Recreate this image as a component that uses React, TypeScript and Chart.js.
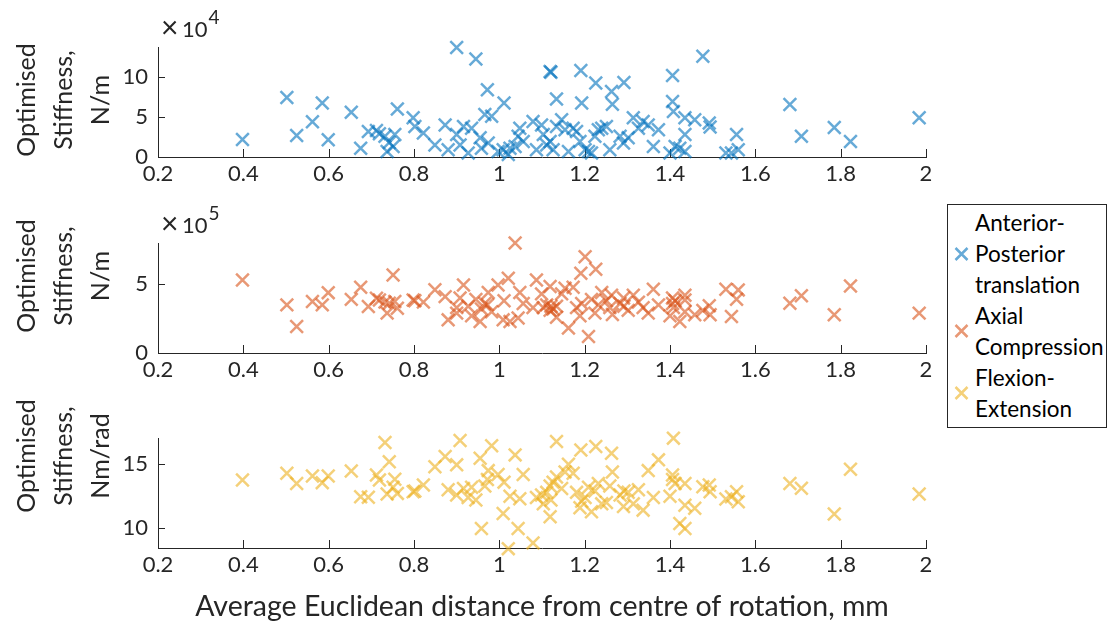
import React, { useEffect, useRef } from 'react';
import { Chart, registerables } from 'chart.js';

Chart.register(...registerables);

const FONT = 'Lato, "Open Sans", sans-serif';
const INK = '#262626';
const WIDTH = 1112;
const PLOT_LEFT = 158;
const PLOT_RIGHT = 926;

// Average Euclidean distance from centre of rotation (mm), one entry per sample
const distance = [
  0.398, 0.502, 0.525, 0.562, 0.585, 0.599, 0.653, 0.675, 0.693, 0.712,
  0.719, 0.732, 0.737, 0.742, 0.751, 0.755, 0.761, 0.798, 0.802, 0.822,
  0.849, 0.873, 0.880, 0.900, 0.900, 0.908, 0.916, 0.927, 0.935, 0.945,
  0.955, 0.958, 0.966, 0.972, 0.974, 0.982, 0.997, 1.009, 1.011, 1.021,
  1.025, 1.037, 1.044, 1.048, 1.056, 1.079, 1.087, 1.099, 1.103, 1.111,
  1.119, 1.121, 1.119, 1.126, 1.134, 1.134, 1.146, 1.154, 1.162, 1.173,
  1.181, 1.189, 1.191, 1.193, 1.201, 1.209, 1.216, 1.224, 1.226, 1.232,
  1.240, 1.251, 1.259, 1.263, 1.265, 1.283, 1.291, 1.292, 1.302, 1.314,
  1.326, 1.337, 1.349, 1.361, 1.373, 1.400, 1.406, 1.406, 1.408, 1.412,
  1.423, 1.435, 1.435, 1.435, 1.458, 1.477, 1.492, 1.494, 1.531, 1.544,
  1.556, 1.560, 1.681, 1.708, 1.785, 1.823, 1.984,
];

// Anterior-posterior translation stiffness, in units of 10^4 N/m
const apStiffnessE4 = [
  2.2, 7.45, 2.7, 4.4, 6.75, 2.16, 5.6, 1.1, 3.2, 3.3,
  2.9, 2.6, 0.7, 1.8, 1.3, 2.8, 6.0, 4.9, 3.8, 3.0,
  1.5, 4.0, 0.9, 13.7, 2.8, 1.5, 3.8, 0.5, 3.6, 12.25,
  2.4, 1.1, 5.3, 8.4, 1.75, 5.1, 0.7, 0.9, 6.75, 0.3,
  1.1, 1.3, 2.6, 3.6, 1.95, 4.45, 0.9, 4.0, 2.8, 1.5,
  10.7, 10.6, 1.95, 0.9, 7.25, 3.8, 4.65, 3.4, 0.7, 3.6,
  3.2, 1.95, 10.8, 6.75, 0.9, 0.7, 0.5, 2.6, 9.25, 3.4,
  3.6, 3.8, 0.9, 8.2, 6.6, 2.6, 1.75, 9.3, 2.4, 4.9,
  3.6, 4.45, 4.0, 1.3, 3.4, 0.5, 10.2, 6.95, 5.7, 1.3,
  1.1, 0.7, 4.9, 2.8, 4.65, 12.6, 4.25, 3.75, 0.5, 0.5,
  2.8, 0.9, 6.55, 2.6, 3.7, 1.95, 4.9,
];

// Axial compression stiffness, in units of 10^5 N/m
const axialStiffnessE5 = [
  5.31, 3.5, 1.93, 3.74, 3.5, 4.39, 3.9, 4.78, 3.38, 3.98,
  3.86, 3.7, 2.9, 3.62, 5.67, 3.74, 3.26, 3.86, 3.8, 3.7,
  4.6, 4.1, 2.41, 3.3, 2.9, 4.0, 4.95, 3.4, 2.7, 3.9,
  2.29, 3.2, 3.6, 3.5, 4.4, 3.0, 4.95, 2.41, 3.8, 5.43,
  2.29, 8.0, 2.54, 4.4, 3.6, 3.3, 5.31, 4.3, 3.3, 3.5,
  3.1, 3.4, 4.83, 3.2, 3.4, 2.6, 4.3, 4.71, 1.81, 4.78,
  3.3, 2.7, 5.8, 3.6, 7.0, 1.2, 3.9, 2.9, 6.09, 3.5,
  4.4, 3.8, 3.3, 4.2, 2.8, 3.6, 4.0, 3.4, 3.1, 4.2,
  3.7, 3.3, 2.9, 4.64, 3.5, 2.7, 3.6, 4.0, 3.3, 3.8,
  2.29, 3.86, 4.2, 3.0, 2.78, 3.1, 3.43, 2.78, 4.64, 2.65,
  3.91, 4.59, 3.62, 4.17, 2.78, 4.88, 2.9,
];

// Flexion-extension stiffness, Nm/rad
const flexionStiffness = [
  13.77, 14.29, 13.5, 14.08, 13.56, 14.08, 14.47, 12.46, 12.41, 14.16,
  13.77, 16.7, 12.67, 15.2, 13.2, 13.82, 12.72, 12.85, 12.9, 13.38,
  14.81, 15.6, 13.0, 14.95, 12.6, 16.85, 13.1, 12.4, 13.2, 12.2,
  15.47, 9.98, 13.3, 13.8, 14.5, 16.44, 14.2, 11.15, 13.6, 8.4,
  12.5, 15.73, 9.98, 12.3, 14.2, 8.85, 12.4, 12.6, 11.9, 12.8,
  13.3, 12.2, 10.89, 13.6, 16.77, 14.0, 13.1, 14.4, 15.0, 14.3,
  12.8, 11.6, 16.12, 12.1, 12.4, 13.2, 11.28, 12.9, 16.38, 13.5,
  11.9, 12.0, 13.3, 15.86, 14.4, 12.6, 11.7, 12.9, 12.8, 11.9,
  13.0, 11.41, 14.5, 12.4, 15.34, 12.5, 13.8, 14.16, 17.04, 13.5,
  10.37, 13.5, 11.8, 9.98, 11.55, 13.24, 13.38, 12.85, 12.28, 12.46,
  12.85, 12.06, 13.5, 13.12, 11.1, 14.6, 12.67,
];

const xTickValues = [0.2, 0.4, 0.6, 0.8, 1, 1.2, 1.4, 1.6, 1.8, 2];
const apTickValues = [0, 5, 10];
const axialTickValues = [0, 5];
const flexionTickValues = [10, 15];

const BLUE = 'rgba(0, 114, 189, 0.6)';
const ORANGE = 'rgba(217, 83, 25, 0.6)';
const YELLOW = 'rgba(237, 177, 32, 0.6)';

// Inward tick marks on both axes plus the "×10^n" multiplier above the y axis.
const axisDecor = {
  id: 'axisDecor',
  beforeDatasetsDraw(chart: any) {
    const { ctx, chartArea } = chart;
    const xs = chart.scales.x;
    const ys = chart.scales.y;
    ctx.save();
    ctx.strokeStyle = INK;
    ctx.lineWidth = 1;
    ctx.beginPath();
    for (const t of xs.ticks) {
      const px = Math.round(xs.getPixelForValue(t.value)) + 0.5;
      ctx.moveTo(px, chartArea.bottom);
      ctx.lineTo(px, chartArea.bottom - 8);
    }
    for (const t of ys.ticks) {
      const py = Math.round(ys.getPixelForValue(t.value)) + 0.5;
      ctx.moveTo(chartArea.left, py);
      ctx.lineTo(chartArea.left + 7, py);
    }
    ctx.stroke();
    ctx.restore();
  },
  afterDraw(chart: any, _args: any, opts: any) {
    if (!opts || !opts.exponent) return;
    const { ctx, chartArea } = chart;
    ctx.save();
    ctx.fillStyle = INK;
    ctx.textAlign = 'left';
    ctx.textBaseline = 'alphabetic';
    const y0 = chartArea.top - 10;
    ctx.font = `30px ${FONT}`;
    ctx.fillText('\u00d7', chartArea.left + 3, y0 + 1);
    ctx.font = `22px ${FONT}`;
    const tenX = chartArea.left + 24;
    ctx.fillText('10', tenX, y0);
    const w = ctx.measureText('10').width;
    ctx.font = `19px ${FONT}`;
    ctx.fillText(opts.exponent, tenX + w + 1, y0 - 13);
    ctx.restore();
  },
};

type PanelProps = {
  top: number;
  height: number;
  padTop: number;
  xHeight: number;
  yMin: number;
  yMax: number;
  yTicks: number[];
  values: number[];
  color: string;
  label: string;
  exponent?: string;
  xTitle?: string;
};

function Panel(p: PanelProps) {
  const ref = useRef<HTMLCanvasElement | null>(null);

  useEffect(() => {
    if (!ref.current) return;
    const tickFont = { family: FONT, size: 22 };
    const chart = new Chart(ref.current, {
      type: 'scatter',
      data: {
        datasets: [
          {
            label: p.label,
            data: distance.map((x, i) => ({ x, y: p.values[i] })),
            pointStyle: 'crossRot',
            pointRadius: 9,
            pointBorderWidth: 2.5,
            borderColor: p.color,
            backgroundColor: p.color,
            clip: false,
          } as any,
        ],
      },
      options: {
        responsive: false,
        animation: false,
        events: [],
        layout: { padding: { left: 0, right: WIDTH - PLOT_RIGHT, top: p.padTop, bottom: 0 } },
        plugins: {
          legend: { display: false },
          tooltip: { enabled: false },
          axisDecor: { exponent: p.exponent },
        } as any,
        scales: {
          x: {
            type: 'linear',
            min: 0.2,
            max: 2,
            grid: { display: false, drawTicks: false },
            border: { display: true, color: INK, width: 1 },
            ticks: {
              font: tickFont,
              color: INK,
              padding: 4,
              autoSkip: false,
              maxRotation: 0,
              callback: (v: any) => String(Math.round(Number(v) * 10) / 10),
            },
            afterBuildTicks: (s: any) => {
              s.ticks = xTickValues.map((value) => ({ value }));
            },
            afterFit: (s: any) => {
              s.height = p.xHeight;
            },
            title: p.xTitle
              ? {
                  display: true,
                  text: p.xTitle,
                  color: INK,
                  font: { family: FONT, size: 28.5 },
                  padding: { top: 0, bottom: 0 },
                }
              : { display: false },
          },
          y: {
            type: 'linear',
            min: p.yMin,
            max: p.yMax,
            grid: { display: false, drawTicks: false },
            border: { display: true, color: INK, width: 1 },
            ticks: {
              font: tickFont,
              color: INK,
              padding: 10,
              callback: (v: any) => String(v),
            },
            afterBuildTicks: (s: any) => {
              s.ticks = p.yTicks.map((value) => ({ value }));
            },
            afterFit: (s: any) => {
              s.width = PLOT_LEFT;
            },
          },
        },
      } as any,
      plugins: [axisDecor as any],
    });
    return () => chart.destroy();
  }, []);

  return (
    <canvas
      ref={ref}
      width={WIDTH}
      height={p.height}
      style={{ position: 'absolute', left: 0, top: p.top, display: 'block' }}
    />
  );
}

function YTitle({ lines, cy }: { lines: string[]; cy: number }) {
  return (
    <div
      style={{
        position: 'absolute',
        left: 62,
        top: cy,
        transform: 'translate(-50%, -50%) rotate(-90deg)',
        textAlign: 'center',
        lineHeight: '37px',
        fontSize: 25,
        whiteSpace: 'nowrap',
        color: INK,
      }}
    >
      {lines.map((l) => (
        <div key={l}>{l}</div>
      ))}
    </div>
  );
}

const legendEntries = [
  { lines: ['Anterior-', 'Posterior', 'translation'], color: BLUE },
  { lines: ['Axial', 'Compression'], color: ORANGE },
  { lines: ['Flexion-', 'Extension'], color: YELLOW },
];

function Legend() {
  return (
    <div
      style={{
        position: 'absolute',
        left: 947,
        top: 204,
        width: 160,
        height: 224,
        boxSizing: 'border-box',
        border: `1px solid ${INK}`,
        background: '#fff',
        paddingTop: 2,
        fontSize: 22.5,
        color: '#000',
      }}
    >
      {legendEntries.map((e) => (
        <div key={e.lines[0]} style={{ display: 'flex', alignItems: 'center' }}>
          <svg width={27} height={20} style={{ flex: '0 0 auto' }}>
            <path
              d="M7.5 4 L19.5 16 M19.5 4 L7.5 16"
              stroke={e.color}
              strokeWidth={2.5}
              fill="none"
            />
          </svg>
          <div style={{ lineHeight: '31px', whiteSpace: 'nowrap' }}>
            {e.lines.map((l) => (
              <div key={l}>{l}</div>
            ))}
          </div>
        </div>
      ))}
    </div>
  );
}

export default function App() {
  Chart.defaults.font.family = FONT;
  return (
    <div
      style={{
        position: 'fixed',
        left: 0,
        top: 0,
        width: WIDTH,
        height: 624,
        background: '#fff',
        fontFamily: FONT,
        overflow: 'hidden',
      }}
    >
      <Panel
        top={0}
        height={200}
        padTop={47}
        xHeight={43}
        yMin={0}
        yMax={13.75}
        yTicks={apTickValues}
        values={apStiffnessE4}
        color={BLUE}
        label="Anterior-Posterior translation"
        exponent="4"
      />
      <Panel
        top={200}
        height={200}
        padTop={43}
        xHeight={47}
        yMin={0}
        yMax={8}
        yTicks={axialTickValues}
        values={axialStiffnessE5}
        color={ORANGE}
        label="Axial Compression"
        exponent="5"
      />
      <Panel
        top={400}
        height={224}
        padTop={38}
        xHeight={76}
        yMin={8.45}
        yMax={17.05}
        yTicks={flexionTickValues}
        values={flexionStiffness}
        color={YELLOW}
        label="Flexion-Extension"
        xTitle="Average Euclidean distance from centre of rotation, mm"
      />
      <YTitle lines={['Optimised', 'Stiffness,', 'N/m']} cy={100} />
      <YTitle lines={['Optimised', 'Stiffness,', 'N/m']} cy={276} />
      <YTitle lines={['Optimised', 'Stiffness,', 'Nm/rad']} cy={456} />
      <Legend />
    </div>
  );
}
